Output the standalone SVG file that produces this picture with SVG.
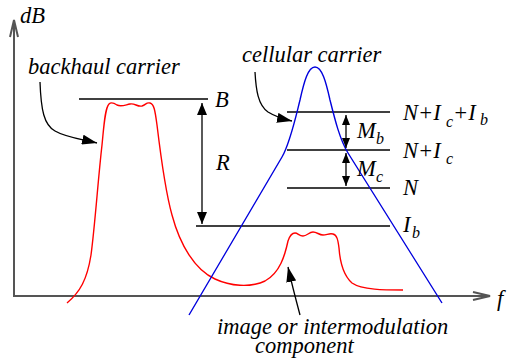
<svg xmlns="http://www.w3.org/2000/svg" width="508" height="360" viewBox="0 0 508 360">
<style>
.t{font-style:italic;font-size:22.5px;fill:#000}
.sub{font-size:16px}
.axis{fill:none;stroke:#555;stroke-width:2}
.lvl{fill:none;stroke:#000;stroke-width:1.3}
.arr{fill:none;stroke:#000;stroke-width:1.3}
.red{fill:none;stroke:#ff0000;stroke-width:1.4}
.blue{fill:none;stroke:#0000dd;stroke-width:1.4}
</style>
<defs>
<marker id="big" markerUnits="userSpaceOnUse" viewBox="0 0 15 10" markerWidth="15" markerHeight="10" refX="15" refY="5" orient="auto"><path d="M0,0 L15,5 L0,10 z" fill="#000"/></marker>
<marker id="med" markerUnits="userSpaceOnUse" viewBox="0 0 12 10" markerWidth="12" markerHeight="10" refX="12" refY="5" orient="auto-start-reverse"><path d="M0,0 L12,5 L0,10 z" fill="#000"/></marker>
<marker id="sm" markerUnits="userSpaceOnUse" viewBox="0 0 10 8" markerWidth="10" markerHeight="8" refX="10" refY="4" orient="auto-start-reverse"><path d="M0,0 L10,4 L0,8 z" fill="#000"/></marker>
</defs>
<rect width="508" height="360" fill="#fff"/>
<g id="axes">
<line class="axis" x1="14" y1="296" x2="14" y2="20"/>
<polyline class="axis" stroke-width="1.4" points="10,37 14,20 18,37"/>
<line class="axis" x1="13" y1="296" x2="490" y2="296"/>
<polyline class="axis" stroke-width="1.4" points="473,292 490,296 473,300"/>
</g>
<g id="levels">
<line class="lvl" x1="79" y1="99" x2="208" y2="99"/>
<line class="lvl" x1="287" y1="112" x2="390" y2="112"/>
<line class="lvl" x1="287" y1="150" x2="390" y2="150"/>
<line class="lvl" x1="287" y1="188" x2="390" y2="188"/>
<line class="lvl" stroke="#444" stroke-width="1.6" x1="196" y1="226" x2="390" y2="226"/>
</g>
<g id="curves">
<path id="backhaul-curve" class="red" d="M67,303 C80,292 87,280 91,255 C95,225 98,180 102,145 C104,125 105,108 109,104 C111,102 114,103 117,105 C121,107 125,105 130,104 C135,103 137,107 142,106 C146,105 146,102 150,103 C154,104 155,110 157,125 C160,150 165,190 172,215 C180,245 195,270 215,279 C230,286 250,288 265,281 C280,273 285,255 288,241 C290,235 292,233 295,233 C298,233 299,236 303,236 C307,236 309,232 313,232 C317,232 319,235 323,235 C327,235 329,233 333,234 C337,235 338,240 339,248 C340,262 343,275 352,283 C362,290 385,290 403,290"/>
<path id="cellular-curve" class="blue" d="M189,315 L282,157 C290,143 295,120 300,100 C304,82 308,67 315,67 C322,67 326,82 330,100 C335,120 340,140 348,153 L442,303"/>
</g>
<g id="connectors">
<path class="arr" d="M40,82 C41,110 44,125 55,131 C65,137 80,139 97,143" marker-end="url(#big)"/>
<path class="arr" d="M255,72 C256,90 258,105 268,112 C276,117 283,119 292,121" marker-end="url(#big)"/>
<path class="arr" d="M300,315 C296,300 292,285 288,267" marker-end="url(#big)"/>
<line class="arr" x1="202" y1="103" x2="202" y2="224" marker-start="url(#med)" marker-end="url(#med)"/>
<line class="arr" x1="346" y1="115" x2="346" y2="148" marker-start="url(#sm)" marker-end="url(#sm)"/>
<line class="arr" x1="346" y1="153" x2="346" y2="186" marker-start="url(#sm)" marker-end="url(#sm)"/>
</g>
<g font-family="Liberation Serif, Times New Roman, serif">
<g id="label-dB"><text class="t" x="20" y="23" font-size="18">dB</text></g>
<g id="label-f"><text class="t" x="497" y="306">f</text></g>
<g id="label-backhaul"><text class="t" x="28" y="74">backhaul carrier</text></g>
<g id="label-cellular"><text class="t" x="242" y="62">cellular carrier</text></g>
<g id="label-image"><text class="t" x="217" y="334">image or intermodulation</text><text class="t" x="255" y="353">component</text></g>
<g id="label-B"><text class="t" x="215" y="107">B</text></g>
<g id="label-R"><text class="t" x="216" y="170">R</text></g>
<g id="label-Mb"><text class="t" x="357" y="138">M<tspan class="sub" x="376" y="144">b</tspan></text></g>
<g id="label-Mc"><text class="t" x="357" y="176">M<tspan class="sub" x="376" y="182">c</tspan></text></g>
<g id="label-NIcIb"><text class="t" x="403" y="120">N+I<tspan class="sub" x="446" y="127">c</tspan><tspan x="453" y="120">+I</tspan><tspan class="sub" x="480" y="125">b</tspan></text></g>
<g id="label-NIc"><text class="t" x="403" y="158">N+I<tspan class="sub" x="446" y="164">c</tspan></text></g>
<g id="label-N"><text class="t" x="403" y="195">N</text></g>
<g id="label-Ib"><text class="t" x="403" y="232">I<tspan class="sub" x="412" y="238">b</tspan></text></g>
</g>
</svg>
